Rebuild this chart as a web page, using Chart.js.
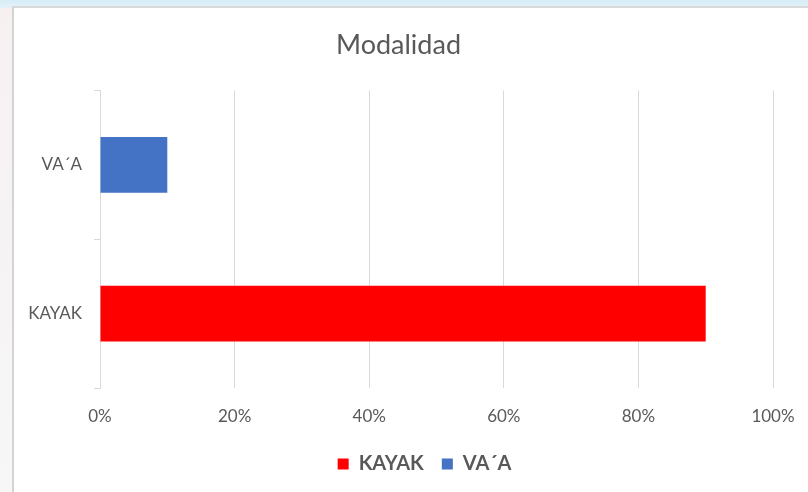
<!DOCTYPE html>
<html>
<head>
<meta charset="utf-8">
<script src="https://cdn.jsdelivr.net/npm/chart.js@4"></script>
<style>
  html, body { margin: 0; padding: 0; }
  body {
    width: 808px; height: 492px; overflow: hidden; position: relative;
    background: linear-gradient(to bottom, #d6ecf6 0px, #e3f2f9 8px, #f6f0f1 8px, #f7f7f7 492px);
  }
  #box {
    position: absolute; left: 12px; top: 6px; width: 796px; height: 486px;
    background: #fff; border-left: 2px solid #d4d4d4; border-top: 2px solid #d9d9d9;
  }
</style>
</head>
<body>
<div id="box"><canvas id="mycanvas" width="796" height="486"></canvas></div>
<script>
var categories = ['VA\u00B4A', 'KAYAK'];
var seriesNames = ['KAYAK', 'VA\u00B4A'];
var kayak = [null, 90];
var vaa = [10, null];
var xTicks = [0, 20, 40, 60, 80, 100];

var textColor = '#595959';
var font = 'Lato, "Open Sans", sans-serif';

var chartdata = {
  labels: categories,
  datasets: [
    {
      label: seriesNames[0],
      backgroundColor: '#ff0000',
      borderWidth: 0,
      data: kayak
    },
    {
      label: seriesNames[1],
      backgroundColor: '#4472c4',
      borderWidth: 0,
      data: vaa
    }
  ]
};

// title and legend are not centred on the plot in the original
var boxShift = {
  id: 'boxShift',
  afterLayout: function(chart) {
    chart.legend.left += 31;
    chart.legend.right += 31;
    chart.titleBlock.left += 5;
    chart.titleBlock.right += 5;
  }
};

var ctx = document.getElementById('mycanvas');

var BarGraph = new Chart(ctx, {
  type: 'bar',
  data: chartdata,
  plugins: [boxShift],
  options: {
    indexAxis: 'y',
    responsive: false,
    animation: false,
    devicePixelRatio: 1,
    layout: { padding: { left: 0, right: 37, top: 0, bottom: 10 } },
    datasets: { bar: { categoryPercentage: 1, barPercentage: 0.375 } },
    plugins: {
      title: {
        display: true,
        text: 'Modalidad',
        color: textColor,
        font: { family: font, size: 27, weight: 'normal', lineHeight: 1.2 },
        padding: { top: 21, bottom: 29 }
      },
      legend: {
        position: 'bottom',
        labels: {
          color: textColor,
          font: { family: font, size: 20, weight: 'bold' },
          boxWidth: 11,
          boxHeight: 11,
          padding: 18
        }
      },
      tooltip: { enabled: false }
    },
    scales: {
      x: {
        min: 0,
        max: 100,
        stacked: true,
        afterBuildTicks: function(axis) {
          axis.ticks = xTicks.map(function(v) { return { value: v }; });
        },
        afterFit: function(axis) {
          axis.height = 48;
          axis.paddingLeft = 0;
          axis.paddingRight = 0;
        },
        ticks: {
          color: textColor,
          font: { family: font, size: 17 },
          padding: 18,
          maxRotation: 0,
          callback: function(v) { return v + '%'; }
        },
        grid: { color: '#d9d9d9', lineWidth: 1, tickLength: 0 },
        border: { display: false }
      },
      y: {
        stacked: true,
        afterFit: function(axis) { axis.width = 86; },
        ticks: {
          color: textColor,
          font: { family: font, size: 17 },
          padding: 12
        },
        grid: { drawOnChartArea: false, tickLength: 6, color: '#d9d9d9', offset: true },
        border: { display: true, color: '#d9d9d9', width: 1 }
      }
    }
  }
});
</script>
</body>
</html>
